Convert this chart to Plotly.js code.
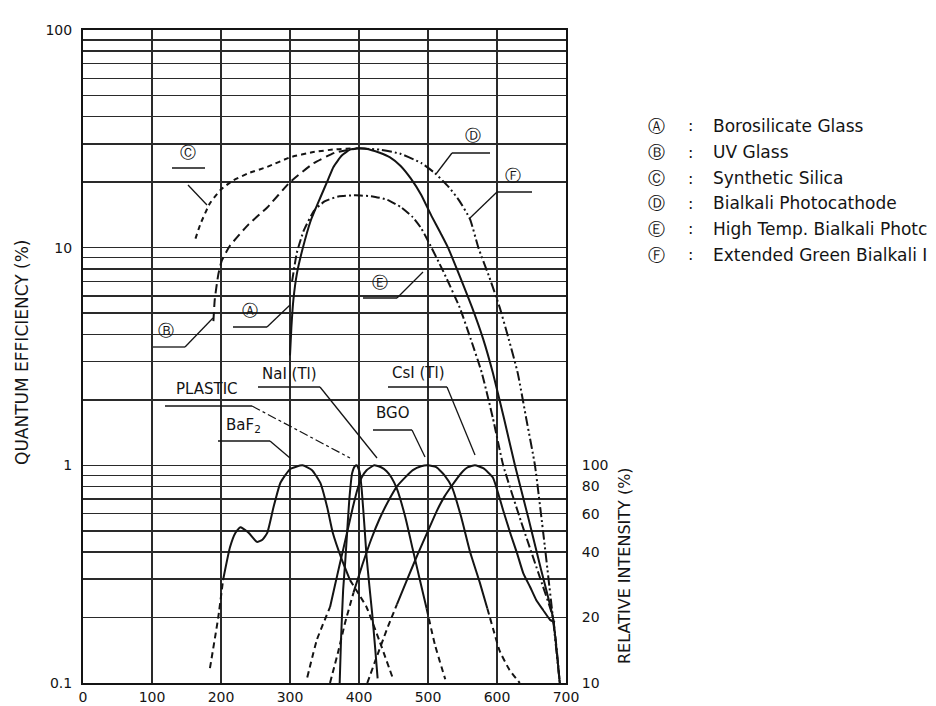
<!DOCTYPE html>
<html><head><meta charset="utf-8">
<script src="https://cdn.plot.ly/plotly-3.0.1.min.js"></script>
<style>html,body{margin:0;padding:0;background:#fff;overflow:hidden}#chart{width:936px;height:706px}</style>
</head><body><div id="chart"></div>
<script>
// ---------- Quantum efficiency curves (wavelength nm, QE %) ----------
const A_nm = [300,302,305,310,318,330,344,355,363,375,387,400];
const A_qe = [3.2,4.3,5.8,7.6,9.8,13.3,17,20.5,23.5,26.5,28.2,28.6];
const B_nm = [189,191,196,201,213,240,267,300,334,365,395];
const B_qe = [4.6,5.8,7.5,8.7,10.2,12.8,15.3,20,24.4,27.3,28.5];
const C_nm = [163,170,184,200,218,240,267,300,334,365,390];
const C_qe = [11,12.8,16,18.5,20.4,22,23.5,26,27.5,28.3,28.6];
const D_nm = [395,410,430,445,460,475,490,505,518,529,546,564,580,594,610,626,645,663,681,691];
const D_qe = [28.6,28.5,27.3,26,23.8,20.8,17.5,14,11.7,10,7.4,5.3,3.8,2.66,1.65,1.0,0.58,0.34,0.2,0.1];
const E_nm = [303,310,320,335,350,370,395,420,441,460,478,490,499,522,546,562,578,594,609,635,660,681,691];
const E_qe = [7,9.5,12,14.8,16.3,17.2,17.4,17.2,16.6,15.4,13.8,12.3,10.9,7.8,5.3,3.8,2.66,1.65,1.0,0.55,0.32,0.2,0.1];
const F_nm = [400,430,460,490,510,530,545,561,573,589,604,617,630,643,655,668,681,691];
const F_qe = [28.6,28.2,27,24.5,22,19,16.5,13.5,10,7.3,5.3,3.8,2.66,1.6,1.0,0.46,0.2,0.1];

// ---------- Scintillator emission (wavelength nm, relative intensity %) ----------
const BaF2_nm = [184,196,203,213,221,228,240,252,260,267,276,286,300,318,332,344,354,362,375,387,400,411,430,450];
const BaF2_ri = [11.7,20,29.7,42,49,52,49,44.5,45.5,48.9,64,83,96,100,95,83,64,49,37,29.7,25.5,22.3,15.5,10.3];
const Plastic_nm = [372,374,377,380,382,386,390,394,397,401,404,408,411,415,419,423,427];
const Plastic_ri = [10,16,26.7,36,45,70,92,99,100,93,77,52,38,28,21,15,10.5];
const NaI_nm = [325,339,358,365,372,380,391,398,404,411,422,432,440,447,455,467,478,488,498,510,525];
const NaI_ri = [10.6,15.8,22.3,28,35,45,64,78,88,95,100,98,94,88,78,58,41,30,22,15,10.4];
const BGO_nm = [358,370,380,392,405,418,430,442,455,467,478,490,500,512,524,535,548,561,575,586,596,604,618,633];
const BGO_ri = [10,14,19,26,35,46,57,68,80,88,95,99,100,98,90,79,58,40,29,22,17,14,11.5,10];
const CsI_nm = [412,425,440,455,470,485,500,512,524,535,548,558,568,580,594,609,620,629,638,648,657,667,677,684];
const CsI_ri = [10,13,17.5,23,30,39,50,61,72,81,92,98,100,97,88,62,48,39.5,32,27.6,24,21.6,19.5,19];

// ---------- Text (legend names as visible in the reference, which is cut at its right edge) ----------
const legendKeys = ['Ⓐ','Ⓑ','Ⓒ','Ⓓ','Ⓔ','Ⓕ'];
const legendNames = ['Borosilicate Glass','UV Glass','Synthetic Silica','Bialkali Photocathode','High Temp. Bialkali Photc','Extended Green Bialkali I'];
const xTicks = [0,100,200,300,400,500,600,700];
const yTicks = [0.1,1,10,100];
const y2Ticks = [10,20,40,60,80,100];

// ---------- layout helpers ----------
const L=83,R=566,T=30,Bm=683;
const px = p => (p-L)/(R-L);
const py = p => (Bm-p)/(Bm-T);
const INK = '#141414';
const FONT = 'DejaVu Sans, Liberation Sans, Arial, sans-serif';
const SM = 0.45;

const traces = [];
function qe(x,y,dash){traces.push({x:x,y:y,mode:'lines',yaxis:'y',line:{color:INK,width:2,dash:dash,shape:'spline',smoothing:SM},hoverinfo:'skip',showlegend:false});}
qe(A_nm,A_qe,'solid');
qe(B_nm,B_qe,'9px,5px');
qe(C_nm,C_qe,'5px,4px');
qe(D_nm,D_qe,'solid');
qe(E_nm,E_qe,'9px,3px,2px,3px');
qe(F_nm,F_qe,'10px,3px,2px,3px,2px,3px');

function scint(x,y,thr){
  const solid = y.map(v => v>=thr ? v : null);
  const dashed = y.map((v,i) => (v<thr || (i>0 && y[i-1]<thr) || (i<y.length-1 && y[i+1]<thr)) ? v : null);
  traces.push({x:x,y:dashed,mode:'lines',yaxis:'y2',line:{color:INK,width:2,dash:'6px,4px',shape:'spline',smoothing:SM},connectgaps:false,hoverinfo:'skip',showlegend:false});
  traces.push({x:x,y:solid,mode:'lines',yaxis:'y2',line:{color:INK,width:2,shape:'spline',smoothing:SM},connectgaps:false,hoverinfo:'skip',showlegend:false});
}
scint(BaF2_nm,BaF2_ri,29);
scint(Plastic_nm,Plastic_ri,0);
scint(NaI_nm,NaI_ri,22);
scint(BGO_nm,BGO_ri,20);
scint(CsI_nm,CsI_ri,18);

const minorVals = [];
[0.1,1,10].forEach(d => {for(let k=2;k<=9;k++) minorVals.push(+(d*k).toPrecision(3));});

const annotations = [];
const shapes = [];
function txt(t,x,y,size,anchor,angle){annotations.push({text:t,x:px(x),y:py(y),xref:'paper',yref:'paper',showarrow:false,xanchor:anchor||'center',yanchor:'middle',textangle:angle||0,font:{family:FONT,size:size||14,color:INK}});}
function seg(x0,y0,x1,y1,dash,w){shapes.push({type:'line',xref:'paper',yref:'paper',x0:px(x0),y0:py(y0),x1:px(x1),y1:py(y1),line:{color:INK,width:w||1.3,dash:dash||'solid'}});}

// legend
const rowY = [126,152,178,203,229,255];
legendKeys.forEach((k,i)=>{
  txt(k,656,rowY[i],17,'center');
  txt(':',690,rowY[i],16,'center');
  txt(legendNames[i],711,rowY[i],17,'left');
});
// axis titles
txt('QUANTUM EFFICIENCY (%)',22,352,17,'center',-90);
txt('RELATIVE INTENSITY (%)',624,566,16,'center',-90);

// curve labels with underline + leader
txt('Ⓒ',188,152,16); seg(172,168,205,168); seg(188,185,207,205);
txt('Ⓓ',473,135,16); seg(452,153,490,153); seg(452,153,436,174);
txt('Ⓕ',513,175,16); seg(497,192,532,192); seg(497,192,470,218);
txt('Ⓔ',380,282,16); seg(363,298,397,298); seg(397,298,423,272);
txt('Ⓐ',250,310,16); seg(233,327,267,327); seg(267,327,290,305);
txt('Ⓑ',166,330,16); seg(153,347,185,347); seg(185,347,213,318);
txt('PLASTIC',207,389,15); seg(165,406,252,406); seg(252,406,350,458,'dashdot',1.2);
txt('NaI (Tl)',289,374,15); seg(258,387,320,387); seg(320,387,377,458);
txt('BaF<sub>2</sub>',243,425,15); seg(218,441,270,441); seg(270,441,290,458);
txt('BGO',392,413,15); seg(373,430,412,430); seg(412,430,425,457);
txt('CsI (Tl)',418,373,15); seg(388,387,447,387); seg(447,387,475,455);

const layout = {
  width:936,height:706,
  margin:{l:L,r:936-R,t:T,b:706-Bm},
  paper_bgcolor:'#fff',plot_bgcolor:'#fff',
  font:{family:FONT,size:14,color:INK},
  showlegend:false,
  xaxis:{range:[0,700],tickvals:xTicks,ticktext:xTicks.map(String),showgrid:true,gridcolor:'#2a2a2a',gridwidth:1.5,
         zeroline:false,showline:true,mirror:true,linecolor:INK,linewidth:2,ticks:'',
         tickfont:{family:FONT,size:14,color:INK},fixedrange:true},
  yaxis:{type:'log',range:[-1,2],tickvals:yTicks,ticktext:['0.1','1','10','100'],showgrid:true,gridcolor:'#2a2a2a',gridwidth:1.5,
         minor:{tickmode:'array',tickvals:minorVals,showgrid:true,gridcolor:'#2a2a2a',gridwidth:1.5,ticks:''},
         zeroline:false,showline:true,mirror:true,linecolor:INK,linewidth:2,ticks:'outside',ticklen:6,tickcolor:'rgba(0,0,0,0)',
         tickfont:{family:FONT,size:14,color:INK},fixedrange:true},
  yaxis2:{type:'log',range:[1,4],overlaying:'y',side:'right',tickvals:y2Ticks,ticktext:y2Ticks.map(String),showgrid:false,zeroline:false,
          showline:false,ticks:'outside',ticklen:12,tickcolor:'rgba(0,0,0,0)',tickfont:{family:FONT,size:14,color:INK},fixedrange:true},
  annotations:annotations,
  shapes:shapes
};
Plotly.newPlot('chart',traces,layout,{staticPlot:true,displayModeBar:false});
</script></body></html>
